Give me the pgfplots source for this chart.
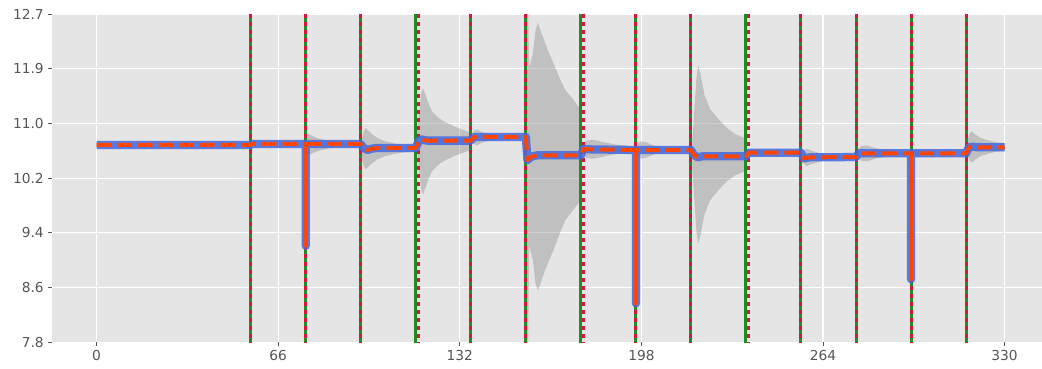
\documentclass[border=0pt]{standalone}
\usepackage{pgfplots}
\pgfplotsset{compat=1.18}
\usepackage{fontspec}
\setmainfont{DejaVu Sans}
\definecolor{bgc}{RGB}{229,229,229}
\definecolor{tickc}{RGB}{85,85,85}
\definecolor{vgreen}{RGB}{34,139,34}
\definecolor{vred}{RGB}{220,20,60}
\definecolor{lblue}{RGB}{65,105,225}
\definecolor{lorange}{RGB}{255,69,0}
\definecolor{bandc}{RGB}{128,128,128}
\begin{document}
\begin{tikzpicture}
\path[use as bounding box] (-38.8pt,-20pt) rectangle (742.7pt,256.7pt);
\begin{axis}[
  at={(0pt,0pt)}, anchor=south west,
  scale only axis, width=742.7pt, height=246.2pt,
  xmin=-16.3, xmax=343.6, ymin=7.8, ymax=12.7,
  axis background/.style={fill=bgc},
  axis line style={draw=none},
  xtick={0,66,132,198,264,330},
  xticklabels={0,66,132,198,264,330},
  ytick={7.8,8.61667,9.43333,10.25,11.06667,11.88333,12.7},
  yticklabels={7.8,8.6,9.4,10.2,11.0,11.9,12.7},
  grid=major,
  major grid style={white, line width=0.8pt},
  tick align=outside, major tick length=2.5pt,
  tick style={tickc, line width=0.6pt},
  xtick pos=bottom, ytick pos=left,
  tick label style={font=\fontsize{10.3}{12}\selectfont, text=tickc},
  clip=true,
]
% confidence band
\addplot[draw=none, fill=bandc, fill opacity=0.36] coordinates {(76.2,10.90) (77,10.91) (78,10.89) (80,10.85) (83,10.82) (86,10.79) (90,10.77) (95,10.755) (95,10.745) (90,10.73) (86,10.71) (83,10.68) (80,10.65) (78,10.61) (77,10.59) (76.2,10.60)};
\addplot[draw=none, fill=bandc, fill opacity=0.36] coordinates {(96.5,10.84) (97,10.94) (97.7,11.00) (98.5,10.97) (100,10.91) (102,10.85) (105,10.80) (108.6,10.765) (112,10.745) (116,10.735) (116,10.645) (112,10.635) (108.6,10.615) (105,10.58) (102,10.53) (100,10.47) (98.5,10.41) (97.7,10.38) (97,10.44) (96.5,10.54)};
\addplot[draw=none, fill=bandc, fill opacity=0.36] coordinates {(116.4,10.90) (117,11.15) (118,11.52) (118.6,11.60) (119.5,11.50) (120.5,11.38) (122,11.24) (124,11.16) (126,11.10) (130,11.02) (134.6,10.95) (136,10.94) (136,10.66) (134.6,10.65) (130,10.58) (126,10.50) (124,10.44) (122,10.36) (120.5,10.22) (119.5,10.10) (118.6,10.00) (118,10.08) (117,10.45) (116.4,10.70)};
\addplot[draw=none, fill=bandc, fill opacity=0.36] coordinates {(136.4,10.92) (137.2,10.96) (138.2,10.98) (140,10.94) (143,10.91) (147,10.89) (152,10.88) (156,10.875) (156,10.845) (152,10.84) (147,10.83) (143,10.81) (140,10.78) (138.2,10.74) (137.2,10.76) (136.4,10.80)};
\addplot[draw=none, fill=bandc, fill opacity=0.36] coordinates {(156.1,13) (156.8,13) (157.2,11.9) (158.5,12.1) (159.5,12.45) (160.3,12.57) (161,12.5) (162,12.38) (164,12.16) (166,11.97) (168,11.77) (170.3,11.57) (173.3,11.42) (176,11.27) (176,9.92) (173.3,9.78) (170.3,9.62) (168,9.39) (166,9.17) (164,8.98) (162,8.76) (161,8.64) (160.3,8.57) (159.5,8.69) (158.5,9.04) (157.2,9.24) (156.8,7.5) (156.1,7.5)};
\addplot[draw=none, fill=bandc, fill opacity=0.36] coordinates {(176.5,10.73) (178,10.81) (180,10.82) (182,10.81) (185,10.78) (189,10.75) (193,10.73) (196,10.72) (196,10.64) (193,10.63) (189,10.61) (185,10.58) (182,10.55) (180,10.54) (178,10.55) (176.5,10.63)};
\addplot[draw=none, fill=bandc, fill opacity=0.36] coordinates {(196.5,10.77) (198,10.80) (200,10.78) (203,10.73) (207,10.70) (212,10.68) (212,10.66) (207,10.64) (203,10.61) (200,10.56) (198,10.54) (196.5,10.57)};
\addplot[draw=none, fill=bandc, fill opacity=0.36] coordinates {(216.5,10.80) (217.3,11.30) (218,11.75) (218.7,11.93) (219.5,11.80) (221,11.48) (223,11.28) (226,11.13) (229,11.00) (232,10.91) (236,10.84) (236,10.36) (232,10.29) (229,10.20) (226,10.07) (223,9.92) (221,9.72) (219.5,9.40) (218.7,9.27) (218,9.45) (217.3,9.90) (216.5,10.39)};
\addplot[draw=none, fill=bandc, fill opacity=0.36] coordinates {(236.5,10.66) (238,10.68) (241,10.66) (245,10.64) (245,10.62) (241,10.60) (238,10.58) (236.5,10.60)};
\addplot[draw=none, fill=bandc, fill opacity=0.36] coordinates {(256.5,10.63) (258,10.69) (260,10.66) (263,10.62) (267,10.59) (272,10.57) (272,10.55) (267,10.53) (263,10.50) (260,10.46) (258,10.43) (256.5,10.49)};
\addplot[draw=none, fill=bandc, fill opacity=0.36] coordinates {(276.5,10.67) (278,10.73) (280,10.74) (283,10.70) (287,10.67) (292,10.64) (296,10.63) (296,10.61) (292,10.60) (287,10.57) (283,10.54) (280,10.50) (278,10.51) (276.5,10.57)};
\addplot[draw=none, fill=bandc, fill opacity=0.36] coordinates {(296.5,10.65) (298,10.67) (301,10.65) (305,10.63) (305,10.61) (301,10.59) (298,10.57) (296.5,10.59)};
\addplot[draw=none, fill=bandc, fill opacity=0.36] coordinates {(316.5,10.815) (317.3,10.915) (318,10.95) (319,10.915) (321,10.855) (324,10.815) (327,10.785) (330,10.775) (330,10.655) (327,10.645) (324,10.615) (321,10.575) (319,10.515) (318,10.48) (317.3,10.515) (316.5,10.615)};
% true change points (green)
\pgfplotsinvokeforeach{56,76,96,116,136,156,176,196,216,236,256,276,296,316}{
  \addplot[vgreen, line width=2.25pt] coordinates {(#1,7.5) (#1,13)};
}
% detected change points (red dotted)
\pgfplotsinvokeforeach{56,76,96,117,136,156,177,196,216,237,256,276,296,316}{
  \addplot[vred, line width=2.25pt, dash pattern=on 3pt off 3pt] coordinates {(#1,7.5) (#1,13)};
}
% estimated mean
\pgfplotstableread{
x y
0 10.745
56 10.745
56.5 10.76
76 10.76
76 9.24
76 10.75
77 10.76
96 10.76
97 10.70
98.5 10.67
100 10.69
102 10.70
116 10.70
117 10.80
118 10.83
120 10.81
136 10.81
137 10.86
139 10.865
156 10.865
156.6 10.52
158 10.57
160 10.59
176 10.59
177 10.69
178.5 10.68
196 10.67
196 8.38
196 10.66
197 10.67
216 10.67
217 10.60
218.5 10.56
220 10.575
236 10.575
237 10.63
239 10.63
256 10.63
257 10.545
259 10.56
276 10.565
277 10.62
279 10.62
296 10.62
296 8.74
296 10.62
316 10.62
317 10.71
318.5 10.72
320 10.71
330 10.71
}\meantable
\addplot[lblue, opacity=0.85, line width=6.2pt, line join=round, line cap=butt] table[x=x,y=y] {\meantable};
\addplot[lorange, line width=3pt, line join=round, line cap=butt, dash pattern=on 11pt off 4.5pt] table[x=x,y=y] {\meantable};
\end{axis}
\end{tikzpicture}
\end{document}
